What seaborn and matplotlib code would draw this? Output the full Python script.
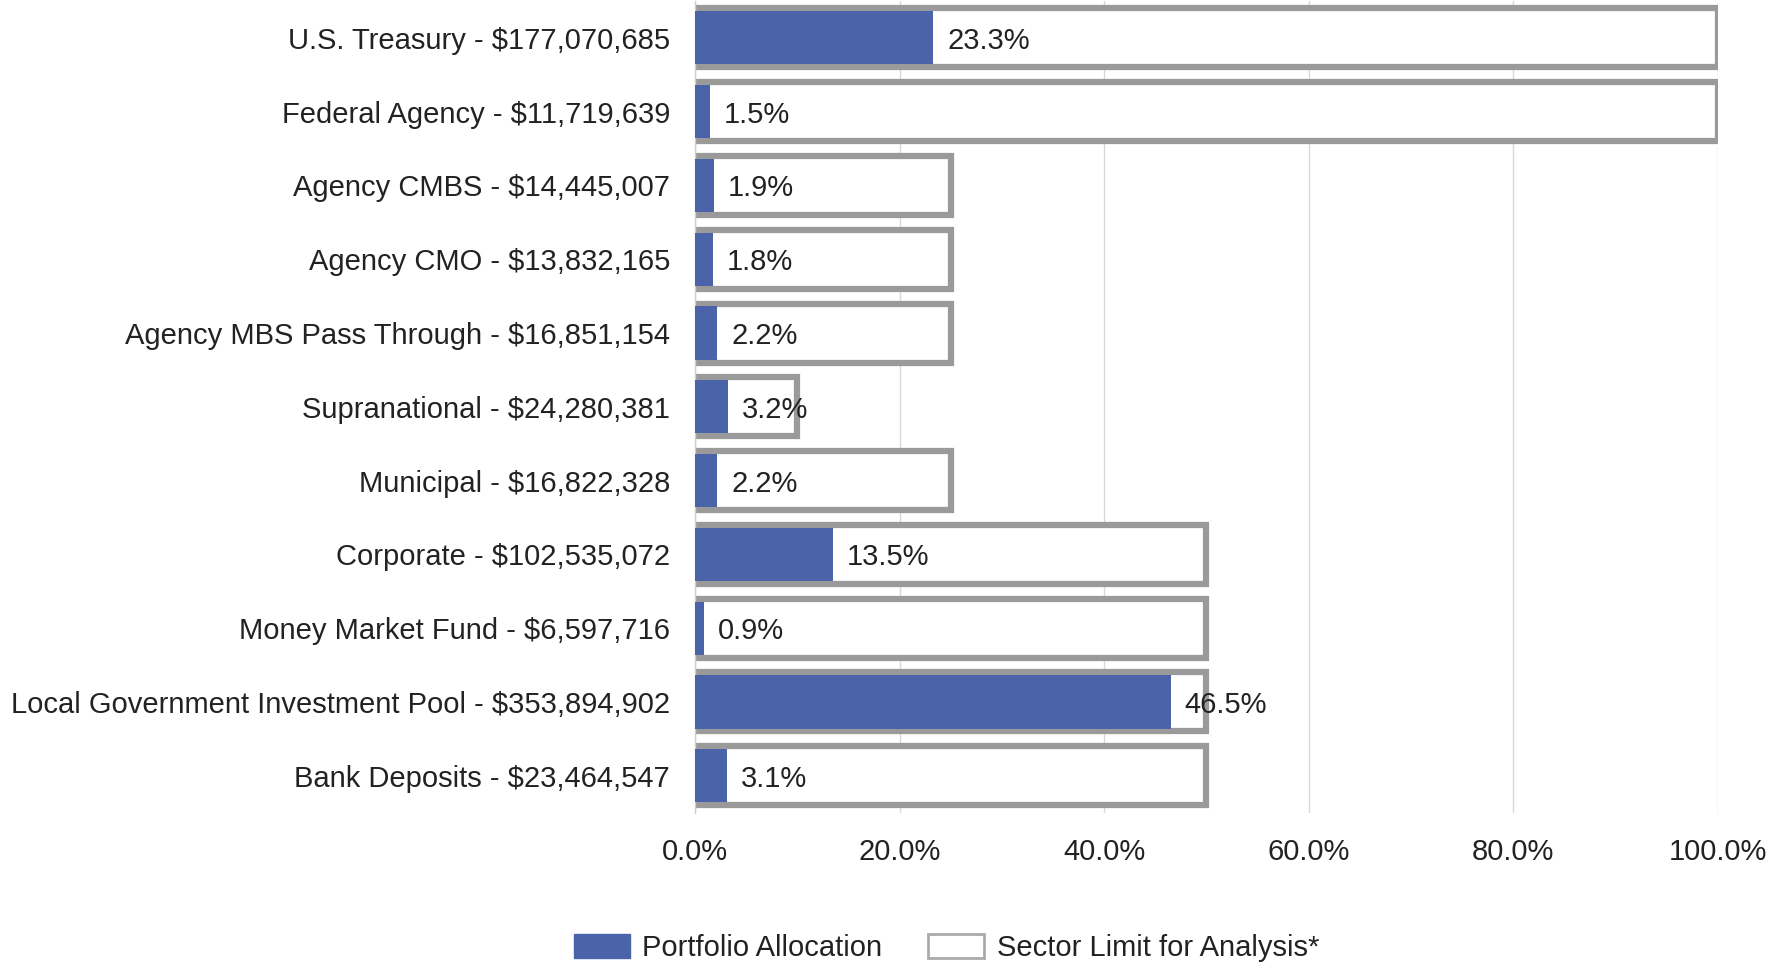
import matplotlib
matplotlib.use("Agg")
import matplotlib.pyplot as plt
import seaborn as sns
import pandas as pd
import numpy as np
from matplotlib.patches import Patch
from matplotlib.ticker import FixedLocator

sectors = ["U.S. Treasury", "Federal Agency", "Agency CMBS", "Agency CMO",
           "Agency MBS Pass Through", "Supranational", "Municipal", "Corporate",
           "Money Market Fund", "Local Government Investment Pool", "Bank Deposits"]
amounts = ["$177,070,685", "$11,719,639", "$14,445,007", "$13,832,165",
           "$16,851,154", "$24,280,381", "$16,822,328", "$102,535,072",
           "$6,597,716", "$353,894,902", "$23,464,547"]
allocation = [23.3, 1.5, 1.9, 1.8, 2.2, 3.2, 2.2, 13.5, 0.9, 46.5, 3.1]
sector_limit = [100, 100, 25, 25, 25, 10, 25, 50, 50, 50, 50]
x_ticks = [0, 20, 40, 60, 80, 100]

labels = [f"{s} - {a}" for s, a in zip(sectors, amounts)]
df = pd.DataFrame({"label": labels, "allocation": allocation, "limit": sector_limit})

sns.set_theme(style="white")
plt.rcParams["font.family"] = ["Liberation Sans", "DejaVu Sans"]

fig = plt.figure(figsize=(17.66, 9.64), dpi=100)
ax = fig.add_axes([0.3935, 0.157, 0.5793, 0.842])

blue = "#4B64A9"
gray = "#9a9a9a"
txt = "#222222"
fs = 21

sns.barplot(data=df, x="limit", y="label", orient="h", color="white",
            edgecolor=gray, linewidth=4.5, width=0.8, ax=ax, zorder=2)
sns.barplot(data=df, x="allocation", y="label", orient="h", color=blue,
            saturation=1, linewidth=0, width=0.72, ax=ax, zorder=3)

for i, v in enumerate(allocation):
    ax.annotate(f"{v:.1f}%", xy=(v, i), xytext=(10, 0), textcoords="offset points",
                va="center_baseline", ha="left", fontsize=fs, color=txt, zorder=5)

ax.set_xlim(0, 100)
ax.set_ylim(len(labels) - 0.5, -0.5)
ax.set_xticks(x_ticks)
ax.set_xticklabels([f"{t:.1f}%" for t in x_ticks])
ax.set_xlabel("")
ax.set_ylabel("")
ax.grid(axis="x", color="#d8d8d8", linewidth=1, zorder=0)
ax.set_axisbelow(True)
for s in ["top", "right", "bottom"]:
    ax.spines[s].set_visible(False)
ax.spines["left"].set_color("#cfcfcf")
ax.spines["left"].set_linewidth(1)
ax.tick_params(axis="x", length=0, pad=18, labelsize=fs, labelcolor=txt)
ax.tick_params(axis="y", which="major", length=0, pad=18, labelsize=fs, labelcolor=txt)
ax.yaxis.set_minor_locator(FixedLocator(np.arange(-0.5, len(labels), 1.0)))
ax.tick_params(axis="y", which="minor", length=5, color="#cfcfcf", width=1)

handles = [Patch(facecolor=blue, edgecolor=blue, label="Portfolio Allocation"),
           Patch(facecolor="white", edgecolor="#aaaaaa", linewidth=2, label="Sector Limit for Analysis*")]
fig.legend(handles=handles, loc="center", bbox_to_anchor=(0.536, 0.017), ncol=2,
           frameon=False, fontsize=fs, handlelength=1.92, handleheight=0.89,
           columnspacing=1.58, handletextpad=0.42, labelcolor=txt)

fig.savefig("out.png", dpi=100, facecolor="white")
